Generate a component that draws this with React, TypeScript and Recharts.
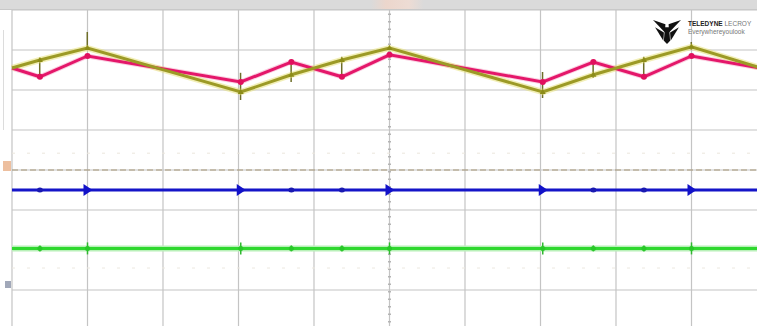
import * as React from "react"
import {
  ComposedChart,
  Line,
  Bar,
  XAxis,
  YAxis,
  CartesianGrid,
  ReferenceLine,
} from "recharts"

// sample times, in horizontal divisions (0..10)
const times = [0, 0.37, 1.0, 3.03, 3.7, 4.37, 5.0, 7.03, 7.7, 8.37, 9.0, 10]

// trace levels, in vertical divisions (0 = centre, +-4 = edges)
const pinkVals = [2.55, 2.33, 2.85, 2.2, 2.7, 2.33, 2.88, 2.2, 2.7, 2.33, 2.85, 2.52]
const oliveVals = [2.55, 2.75, 3.05, 1.95, 2.38, 2.75, 3.05, 1.95, 2.38, 2.75, 3.08, 2.5]
const blueVals = [-0.5, -0.5, -0.5, -0.5, -0.5, -0.5, -0.5, -0.5, -0.5, -0.5, -0.5, -0.5]
const greenVals = [-1.96, -1.96, -1.96, -1.96, -1.96, -1.96, -1.96, -1.96, -1.96, -1.96, -1.96, -1.96]

// little vertical glitches on the olive trace at the sample points
const spikeLo = [null, 2.3, 3.0, 1.75, 2.2, 2.33, null, 1.8, 2.3, 2.3, 3.0, null]
const spikeHi = [null, 2.8, 3.45, 2.43, 2.63, 2.83, null, 2.45, 2.75, 2.83, 3.2, null]

const majorTimes = [1.0, 3.03, 5.0, 7.03, 9.0]

const xTicks = [0, 1, 2, 3, 4, 5, 6, 7, 8, 9, 10]
const yTicks = [-4, -3, -2, -1, 0, 1, 2, 3, 4]

const data = times.map((t, i) => ({
  t,
  pink: pinkVals[i],
  olive: oliveVals[i],
  blue: blueVals[i],
  green: greenVals[i],
  spike: spikeLo[i] == null ? null : [spikeLo[i], spikeHi[i]],
}))

const isEdge = (t: number) => t === 0 || t === 10
const isMajor = (t: number) => majorTimes.includes(t)

function BlueDot(props: any) {
  const { cx, cy, payload } = props
  if (cx == null || isEdge(payload.t)) return <g key={props.index} />
  if (isMajor(payload.t)) {
    return (
      <polygon
        key={props.index}
        points={`${cx - 4},${cy - 6} ${cx + 5},${cy} ${cx - 4},${cy + 6}`}
        fill="#1212c8"
      />
    )
  }
  return <ellipse key={props.index} cx={cx} cy={cy} rx={3} ry={2.5} fill="#1a1ab0" />
}

function GreenDot(props: any) {
  const { cx, cy, payload } = props
  if (cx == null || isEdge(payload.t)) return <g key={props.index} />
  const h = isMajor(payload.t) ? 6 : 3
  return (
    <g key={props.index}>
      <line x1={cx} x2={cx} y1={cy - h} y2={cy + h} stroke="#2fb82f" strokeWidth={1.5} />
      <circle cx={cx} cy={cy} r={2.5} fill="#28c828" />
    </g>
  )
}

function PinkDot(props: any) {
  const { cx, cy, payload } = props
  if (cx == null || isEdge(payload.t)) return <g key={props.index} />
  return <circle key={props.index} cx={cx} cy={cy} r={3} fill="#e0105e" />
}

function OliveDot(props: any) {
  const { cx, cy, payload } = props
  if (cx == null || isEdge(payload.t)) return <g key={props.index} />
  return (
    <polygon
      key={props.index}
      points={`${cx - 3},${cy + 2} ${cx + 3},${cy + 2} ${cx},${cy - 3}`}
      fill="#8c8c18"
    />
  )
}

function Logo() {
  return (
    <div style={{ position: "absolute", left: 653, top: 19, display: "flex", alignItems: "flex-start" }}>
      <svg width={28} height={25} viewBox="0 0 27 24">
        <path d="M0 1 L12 5 L11.5 13 Z" fill="#111" />
        <path d="M27 1 L15 5 L15.5 13 Z" fill="#111" />
        <path d="M11.5 8 L15.5 8 L16.5 21 L13.5 24 L10.5 21 Z" fill="#111" />
        <path d="M2 8 L10.5 13 L10 21 Z" fill="#111" />
        <path d="M25 8 L16.5 13 L17 21 Z" fill="#111" />
      </svg>
      <div style={{ marginLeft: 7, marginTop: 1, fontFamily: "Liberation Sans, Arial, sans-serif", lineHeight: "8px" }}>
        <div style={{ fontSize: 6.5, fontWeight: 700, color: "#222", whiteSpace: "nowrap" }}>
          TELEDYNE <span style={{ fontWeight: 400, color: "#777" }}>LECROY</span>
        </div>
        <div style={{ fontSize: 6.5, color: "#777", whiteSpace: "nowrap" }}>Everywhereyoulook</div>
      </div>
    </div>
  )
}

export default function App() {
  return (
    <div
      style={{
        position: "absolute",
        left: 0,
        top: 0,
        width: 757,
        height: 326,
        overflow: "hidden",
        background: "#fff",
      }}
    >
      <ComposedChart
        width={770}
        height={330}
        data={data}
        margin={{ top: 10, right: 3, bottom: 0, left: 12 }}
      >
        <XAxis dataKey="t" type="number" domain={[0, 10]} ticks={xTicks} hide />
        <YAxis type="number" domain={[-4, 4]} ticks={yTicks} hide />
        <CartesianGrid stroke="#c4c4c4" strokeWidth={1.2} />
        <ReferenceLine x={5} stroke="#b4b4b4" strokeDasharray="1.5 6" strokeWidth={3} />
        <ReferenceLine y={0.42} stroke="#ebe6dc" strokeDasharray="3 12" />
        <ReferenceLine y={-2.45} stroke="#ece8e0" strokeDasharray="3 12" />
        <ReferenceLine y={0} stroke="#a89878" strokeDasharray="6 3" strokeWidth={1.2} />

        <Line dataKey="green" stroke="#b8f0b8" strokeWidth={6} dot={false} isAnimationActive={false} />
        <Line dataKey="green" stroke="#2fd82f" strokeWidth={3} dot={<GreenDot />} isAnimationActive={false} />
        <Line dataKey="blue" stroke="#1515c8" strokeWidth={3} dot={<BlueDot />} isAnimationActive={false} />

        <Line dataKey="pink" stroke="#f5a0c4" strokeWidth={5} strokeOpacity={0.5} dot={false} isAnimationActive={false} />
        <Line dataKey="olive" stroke="#e6e070" strokeWidth={6} strokeOpacity={0.5} dot={false} isAnimationActive={false} />
        <Bar dataKey="spike" barSize={1.5} fill="#6e6e28" isAnimationActive={false} />
        <Line dataKey="pink" stroke="#e4176a" strokeWidth={3} dot={<PinkDot />} isAnimationActive={false} />
        <Line dataKey="olive" stroke="#9c9a26" strokeWidth={3} dot={<OliveDot />} isAnimationActive={false} />
      </ComposedChart>

      {/* top status strip */}
      <div
        style={{
          position: "absolute",
          left: 0,
          top: 0,
          width: 757,
          height: 9,
          background: "linear-gradient(90deg, #dadada 0%, #dadada 49%, #ecd6cc 51%, #eddcd4 54%, #dadada 56%, #dadada 100%)",
          borderBottom: "1px solid #c8c8c8",
        }}
      />
      {/* left edge */}
      <div style={{ position: "absolute", left: 0, top: 10, width: 11, height: 316, background: "#fff" }} />
      <div style={{ position: "absolute", left: 3, top: 30, width: 1, height: 100, background: "#dcdcdc" }} />
      <div style={{ position: "absolute", left: 3, top: 161, width: 8, height: 10, background: "#eab48e", opacity: 0.85 }} />
      <div style={{ position: "absolute", left: 5, top: 281, width: 6, height: 7, background: "#8a92a8", opacity: 0.8 }} />
      <Logo />
    </div>
  )
}
